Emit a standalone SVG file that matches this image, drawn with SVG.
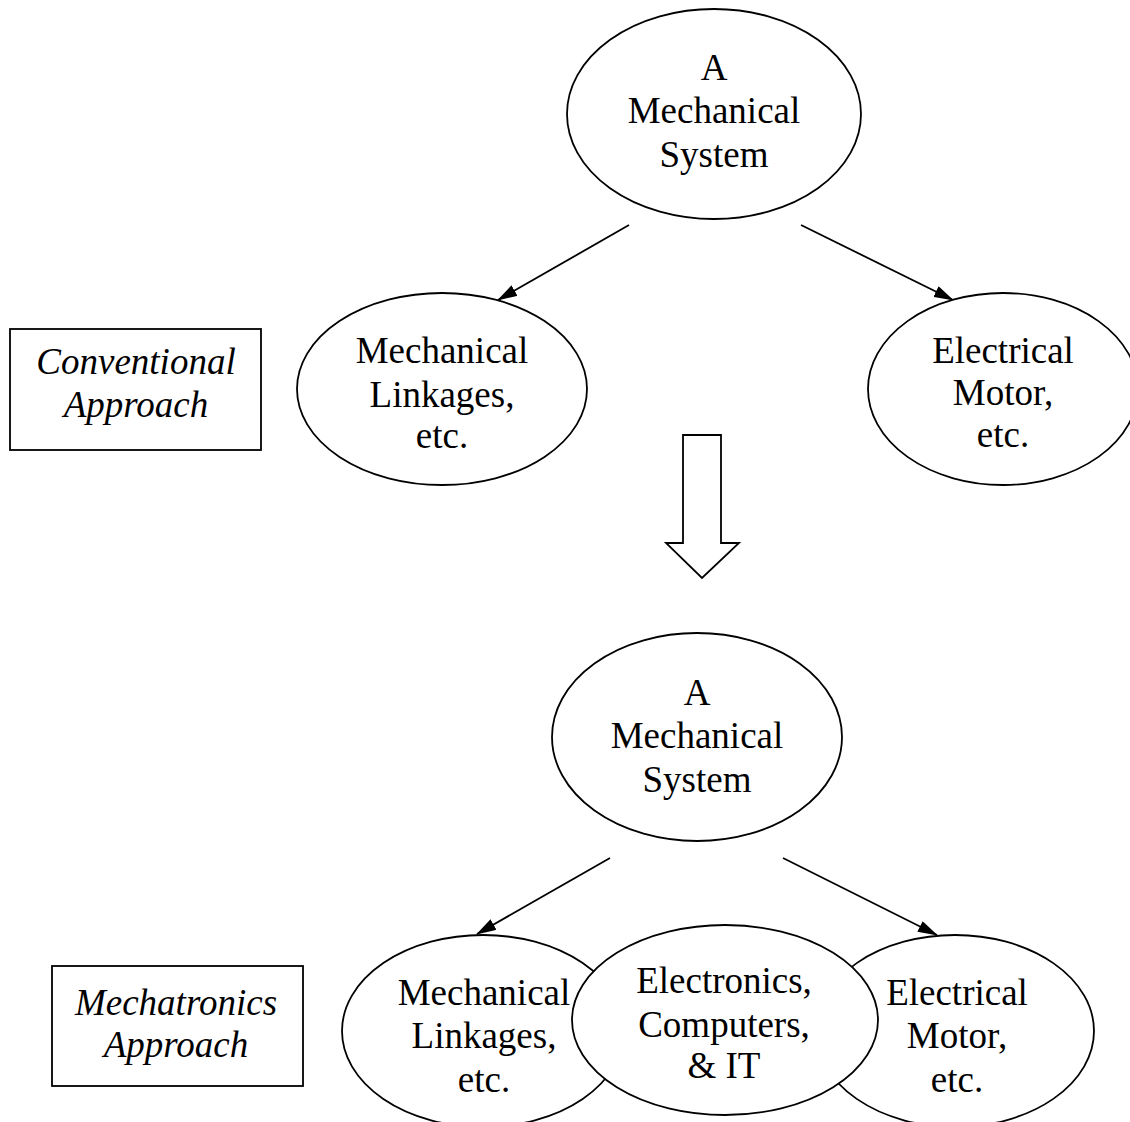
<svg xmlns="http://www.w3.org/2000/svg" width="1130" height="1122" viewBox="0 0 1130 1122">
<style>
.n{fill:#fff;stroke:#000;stroke-width:1.8}
.t{font-family:"Liberation Serif","Times New Roman",serif;font-size:37px;fill:#000;text-anchor:middle}
.i{font-style:italic}
.c{stroke:#000;stroke-width:1.8;fill:none}
</style>
<defs>
<marker id="ah" markerWidth="20" markerHeight="12" refX="19" refY="6" orient="auto" markerUnits="userSpaceOnUse">
<path d="M0,0 L20,6 L0,12 Z" fill="#000"/>
</marker>
</defs>
<rect width="1130" height="1122" fill="#fff"/>
<g id="connectors">
<line class="c" x1="629" y1="225" x2="498" y2="300" marker-end="url(#ah)"/>
<line class="c" x1="801" y1="225" x2="953" y2="300" marker-end="url(#ah)"/>
<line class="c" x1="610" y1="858" x2="477" y2="934" marker-end="url(#ah)"/>
<line class="c" x1="783" y1="858" x2="937" y2="935" marker-end="url(#ah)"/>
<path id="transition-arrow" class="n" d="M683,435 L721,435 L721,543 L739,543 L702,578 L666,543 L683,543 Z"/>
</g>
<g id="conventional-label">
<rect class="n" x="10" y="329" width="251" height="121"/>
<text class="t i" x="136" y="374">Conventional</text>
<text class="t i" x="136" y="417">Approach</text>
</g>
<g id="top-system">
<ellipse class="n" cx="714" cy="114" rx="147" ry="105"/>
<text class="t" x="714" y="80">A</text>
<text class="t" x="714" y="123">Mechanical</text>
<text class="t" x="714" y="167">System</text>
</g>
<g id="top-mech">
<ellipse class="n" cx="442" cy="389" rx="145" ry="96"/>
<text class="t" x="442" y="363">Mechanical</text>
<text class="t" x="442" y="407">Linkages,</text>
<text class="t" x="442" y="448">etc.</text>
</g>
<g id="top-elec">
<ellipse class="n" cx="1003" cy="389" rx="135" ry="96"/>
<text class="t" x="1003" y="363">Electrical</text>
<text class="t" x="1003" y="405">Motor,</text>
<text class="t" x="1003" y="447">etc.</text>
</g>
<g id="mechatronics-label">
<rect class="n" x="52" y="966" width="251" height="120"/>
<text class="t i" x="176" y="1015">Mechatronics</text>
<text class="t i" x="176" y="1057">Approach</text>
</g>
<g id="bottom-system">
<ellipse class="n" cx="697" cy="737" rx="145" ry="104"/>
<text class="t" x="697" y="705">A</text>
<text class="t" x="697" y="748">Mechanical</text>
<text class="t" x="697" y="792">System</text>
</g>
<g id="bottom-mech">
<ellipse class="n" cx="483" cy="1031" rx="141" ry="96"/>
<text class="t" x="484" y="1005">Mechanical</text>
<text class="t" x="484" y="1048">Linkages,</text>
<text class="t" x="484" y="1092">etc.</text>
</g>
<g id="bottom-elec">
<ellipse class="n" cx="955" cy="1031" rx="139" ry="96"/>
<text class="t" x="957" y="1005">Electrical</text>
<text class="t" x="957" y="1048">Motor,</text>
<text class="t" x="957" y="1092">etc.</text>
</g>
<g id="bottom-electronics">
<ellipse class="n" cx="725" cy="1020" rx="153" ry="95"/>
<text class="t" x="724" y="993">Electronics,</text>
<text class="t" x="724" y="1037">Computers,</text>
<text class="t" x="724" y="1078">&amp; IT</text>
</g>
</svg>
